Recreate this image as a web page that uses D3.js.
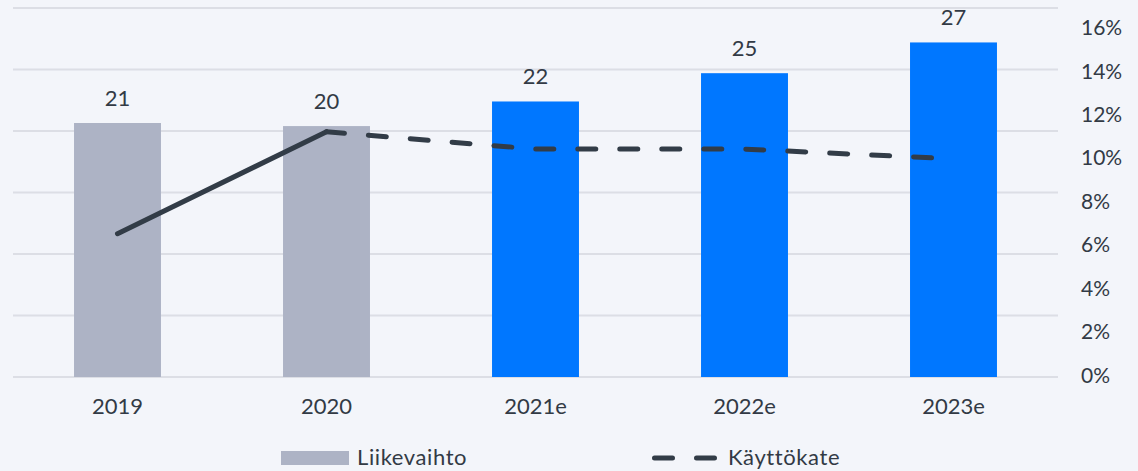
<!DOCTYPE html>
<html lang="fi">
<head>
<meta charset="UTF-8">
<title>Liikevaihto ja käyttökate</title>
<script src="https://d3js.org/d3.v7.min.js"></script>
<style>
  body { margin: 0; background: #f3f5fa; }
  svg { display: block; }
  text { font-family: Lato, "Open Sans", sans-serif; fill: #323a45; }
</style>
</head>
<body>
<svg width="1138" height="471"></svg>
<script>
// data
const years = ["2019", "2020", "2021e", "2022e", "2023e"];
const revenue = [20.65, 20.4, 22.4, 24.7, 27.2];      // Liikevaihto, MEUR
const revenueLabels = ["21", "20", "22", "25", "27"];
const ebitdaPct = [6.6, 11.3, 10.5, 10.5, 10.05];     // Käyttökate, %
const estimate = [false, false, true, true, true];
const pctTicks = [0, 2, 4, 6, 8, 10, 12, 14, 16];
const leftTicks = [0, 5, 10, 15, 20, 25, 30];

const svg = d3.select("svg");

const x = d3.scaleBand()
    .domain(years)
    .range([13, 1058])
    .paddingInner(0.584)
    .paddingOuter(0.292);

const y = d3.scaleLinear().domain([0, 30]).range([377, 8]);
const yPct = d3.scaleLinear().domain([0, 17]).range([377, 8]);

// gridlines (hidden left axis)
svg.append("g")
    .selectAll("line")
    .data(leftTicks)
    .join("line")
    .attr("x1", 13)
    .attr("x2", 1058)
    .attr("y1", d => y(d))
    .attr("y2", d => y(d))
    .attr("stroke", "#dcdee5")
    .attr("stroke-width", 2);

// bars
svg.append("g")
    .selectAll("rect")
    .data(years)
    .join("rect")
    .attr("x", d => x(d))
    .attr("width", x.bandwidth())
    .attr("y", (d, i) => y(revenue[i]))
    .attr("height", (d, i) => y(0) - y(revenue[i]))
    .attr("fill", (d, i) => estimate[i] ? "#0077ff" : "#adb3c5");

// bar labels
svg.append("g")
    .selectAll("text")
    .data(years)
    .join("text")
    .attr("x", d => x(d) + x.bandwidth() / 2)
    .attr("y", (d, i) => y(revenue[i]) - 17)
    .attr("text-anchor", "middle")
    .style("font-size", "22px")
    .text((d, i) => revenueLabels[i]);

// x labels
svg.append("g")
    .selectAll("text")
    .data(years)
    .join("text")
    .attr("x", d => x(d) + x.bandwidth() / 2)
    .attr("y", 414)
    .attr("text-anchor", "middle")
    .style("font-size", "22px")
    .text(d => d);

// right axis
svg.append("g")
    .selectAll("text")
    .data(pctTicks)
    .join("text")
    .attr("x", 1081)
    .attr("y", d => yPct(d) - 3)
    .attr("dominant-baseline", "central")
    .style("font-size", "21px")
    .text(d => d + "%");

// käyttökate line: actuals solid, estimates dashed
const pts = years.map((d, i) => [x(d) + x.bandwidth() / 2, yPct(ebitdaPct[i])]);
const line = d3.line();
const lastActual = estimate.lastIndexOf(false);

svg.append("path")
    .attr("d", line(pts.slice(0, lastActual + 1)))
    .attr("fill", "none")
    .attr("stroke", "#323c47")
    .attr("stroke-width", 5)
    .attr("stroke-linecap", "round")
    .attr("stroke-linejoin", "round");

svg.append("path")
    .attr("d", line(pts.slice(lastActual)))
    .attr("fill", "none")
    .attr("stroke", "#323c47")
    .attr("stroke-width", 5)
    .attr("stroke-linecap", "round")
    .attr("stroke-dasharray", "18 24");

// legend
const legend = svg.append("g");
legend.append("rect")
    .attr("x", 281).attr("y", 451)
    .attr("width", 68).attr("height", 14)
    .attr("fill", "#adb3c5");
legend.append("text")
    .attr("x", 357).attr("y", 465)
    .style("font-size", "22px")
    .style("letter-spacing", "0.6px")
    .text("Liikevaihto");
legend.append("line")
    .attr("x1", 654.5).attr("x2", 714.5)
    .attr("y1", 458).attr("y2", 458)
    .attr("stroke", "#323c47")
    .attr("stroke-width", 5)
    .attr("stroke-linecap", "round")
    .attr("stroke-dasharray", "18 24");
legend.append("text")
    .attr("x", 728).attr("y", 465)
    .style("font-size", "22px")
    .style("letter-spacing", "0.6px")
    .text("Käyttökate");
</script>
</body>
</html>
